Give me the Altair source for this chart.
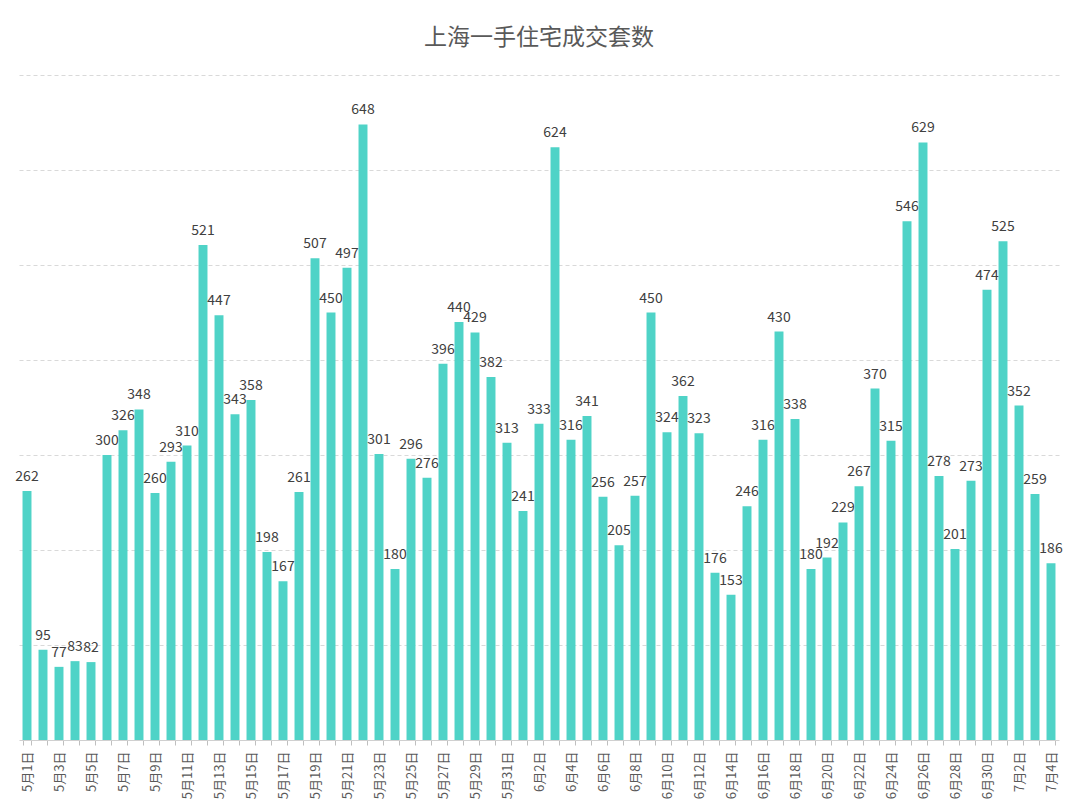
import altair as alt
import pandas as pd

may = [262, 95, 77, 83, 82, 300, 326, 348, 260, 293, 310, 521, 447, 343, 358, 198,
       167, 261, 507, 450, 497, 648, 301, 180, 296, 276, 396, 440, 429, 382, 313]
june = [241, 333, 624, 316, 341, 256, 205, 257, 450, 324, 362, 323, 176, 153, 246,
        316, 430, 338, 180, 192, 229, 267, 370, 315, 546, 629, 278, 201, 273, 474]
july = [525, 352, 259, 186]

dates = ([f"5月{d}日" for d in range(1, 32)] +
         [f"6月{d}日" for d in range(1, 31)] +
         [f"7月{d}日" for d in range(1, 5)])
values = may + june + july
shown = dates[::2]

df = pd.DataFrame({"date": dates, "value": values})

font = "Noto Sans CJK SC"
label_expr = "indexof([" + ",".join(f"'{s}'" for s in shown) + "], datum.value) >= 0 ? datum.label : ''"

x = alt.X("date:N", sort=dates, title=None,
          scale=alt.Scale(paddingInner=0.44, paddingOuter=0.22),
          axis=alt.Axis(labelAngle=270, labelExpr=label_expr, labelOverlap=False,
                        labelFont=font, labelFontSize=13, labelColor="#595959",
                        labelPadding=6, labelAlign="right", labelBaseline="middle",
                        tickBand="extent", tickColor="#bfbfbf", tickSize=5,
                        domainColor="#d0d0d0", grid=False))
y = alt.Y("value:Q", title=None, scale=alt.Scale(domain=[0, 700], nice=False),
          axis=alt.Axis(labels=False, ticks=False, domain=False, values=[100, 200, 300, 400, 500, 600, 700],
                        gridColor="#d9d9d9", gridDash=[4, 3], gridWidth=1))

bars = alt.Chart(df).mark_bar(color="#4fd3c7").encode(x=x, y=y)
text = alt.Chart(df).mark_text(baseline="bottom", dy=-7, font=font, fontSize=14,
                               color="#404040").encode(x=alt.X("date:N", sort=dates), y="value:Q",
                                                         text="value:Q")

chart = (bars + text).properties(
    width=1040, height=665,
    title=alt.TitleParams("上海一手住宅成交套数", font=font, fontSize=23, fontWeight="normal",
                          color="#595959", anchor="middle", offset=25),
    autosize=alt.AutoSizeParams(type="none"),
    padding={"left": 11, "top": 67, "right": 13, "bottom": 62},
).configure(background="white").configure_view(stroke="transparent", strokeWidth=0)

chart.save("out.html", embed_options={"renderer": "svg", "actions": False})
